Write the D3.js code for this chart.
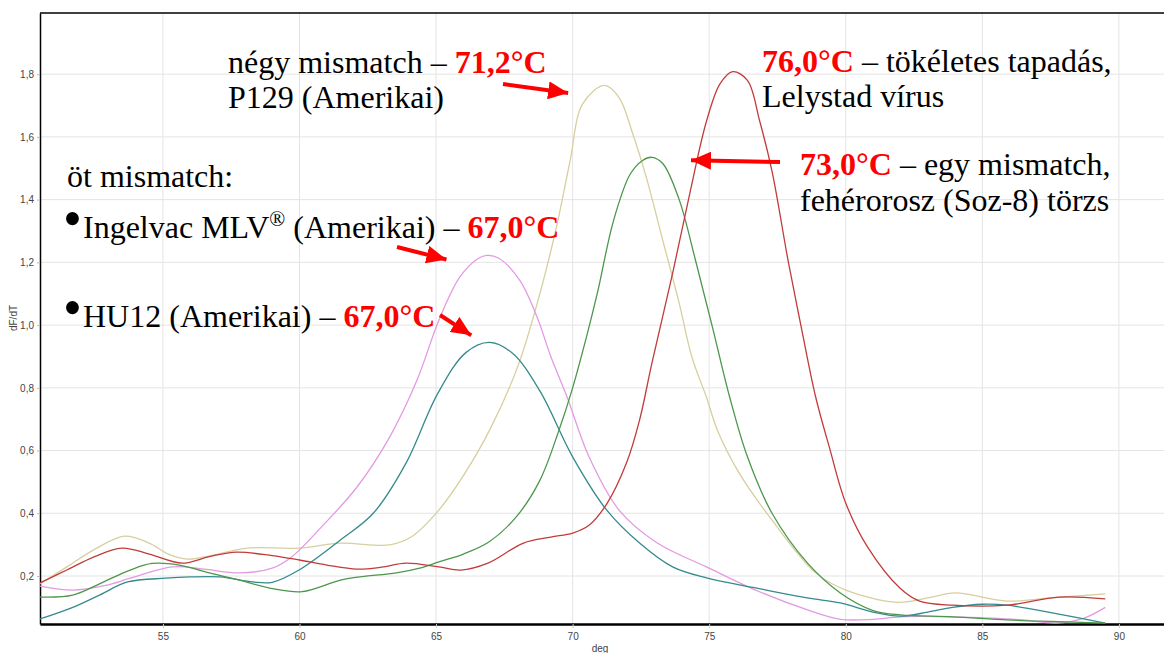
<!DOCTYPE html>
<html>
<head>
<meta charset="utf-8">
<script src="https://cdn.jsdelivr.net/npm/d3@7"></script>
<style>
  body { margin: 0; background: #fff; }
  .tick text { font-family: "Liberation Sans", Arial, sans-serif; font-size: 10px; fill: #444; }
  .note { font-family: "Liberation Serif", "Times New Roman", serif; font-size: 32px; fill: #000; }
  .temp { fill: #ff0000; font-weight: bold; }
</style>
</head>
<body>
<svg id="chart"></svg>
<script>
// melting curves, [temperature, dF/dT]
const lelystad = [[50.5,0.178],[51.5,0.22],[52.5,0.262],[53.5,0.289],[54.5,0.27],[55.7,0.241],[56.7,0.262],[57.7,0.276],[59,0.265],[60,0.251],[61,0.235],[62.1,0.222],[63,0.228],[63.9,0.241],[65.1,0.229],[65.9,0.219],[66.9,0.241],[68.2,0.305],[69.2,0.324],[70,0.337],[70.6,0.362],[71.25,0.43],[71.97,0.56],[72.45,0.697],[72.9,0.878],[73.66,1.165],[74.29,1.42],[74.9,1.65],[75.4,1.77],[75.86,1.808],[76.4,1.78],[76.85,1.65],[77.3,1.49],[77.9,1.2],[78.4,0.98],[78.9,0.77],[79.4,0.61],[80,0.432],[80.8,0.292],[82,0.16],[82.7,0.12],[83.9,0.107],[85.9,0.107],[87.8,0.133],[89.5,0.127]];
const p129 = [[50.5,0.175],[51.5,0.23],[52.5,0.285],[53.6,0.327],[54.5,0.305],[55.2,0.27],[55.9,0.254],[57,0.27],[58.1,0.289],[60,0.289],[61.5,0.305],[63.3,0.299],[64.1,0.325],[65.1,0.41],[66,0.52],[66.96,0.665],[68,0.87],[68.8,1.10],[69.4,1.31],[69.9,1.52],[70.37,1.706],[71.17,1.764],[71.7,1.725],[72.2,1.61],[72.7,1.47],[73.3,1.27],[73.9,1.07],[74.36,0.9],[74.9,0.77],[75.3,0.665],[76.1,0.528],[77.3,0.378],[78.9,0.21],[80,0.155],[81.9,0.116],[83,0.13],[84,0.146],[85.9,0.12],[87.5,0.13],[89.5,0.143]];
const soz8 = [[50.5,0.133],[51.7,0.139],[52.8,0.18],[53.8,0.219],[54.6,0.24],[55.6,0.235],[56.7,0.21],[57.8,0.187],[59,0.16],[60.1,0.15],[61.5,0.187],[62.2,0.197],[63.55,0.21],[64.4,0.225],[65.1,0.245],[66,0.27],[66.96,0.31],[67.95,0.39],[68.8,0.505],[69.5,0.665],[70,0.8],[70.5,0.96],[70.9,1.10],[71.5,1.334],[72.1,1.48],[72.56,1.525],[72.9,1.535],[73.3,1.515],[73.9,1.40],[74.5,1.206],[75.1,1.0],[75.75,0.77],[76.4,0.58],[77.3,0.40],[78.6,0.241],[79.8,0.146],[81,0.09],[82,0.076],[83.9,0.07],[85.9,0.06],[87.5,0.055],[89.5,0.05]];
const ingelvac = [[50.5,0.168],[51.7,0.155],[52.9,0.17],[53.8,0.193],[55.35,0.229],[56.5,0.222],[57.8,0.21],[59,0.225],[59.7,0.26],[60.8,0.356],[62.1,0.483],[63.3,0.643],[64.3,0.824],[65.1,1.015],[65.86,1.152],[66.5,1.21],[66.85,1.222],[67.3,1.213],[68.06,1.143],[68.7,1.025],[69.2,0.9],[69.8,0.77],[70.6,0.58],[71.7,0.41],[73.1,0.305],[74.9,0.229],[76.7,0.155],[78.6,0.092],[79.8,0.062],[81,0.062],[82,0.07],[83.9,0.07],[85.3,0.066],[86.5,0.06],[87.7,0.05],[88.7,0.065],[89.5,0.1]];
const hu12 = [[50.5,0.063],[51.7,0.10],[52.7,0.14],[53.7,0.181],[55.1,0.193],[56,0.197],[57.1,0.197],[58.3,0.181],[59,0.18],[60,0.22],[61.5,0.315],[62.7,0.4],[63.9,0.56],[65.05,0.78],[66.1,0.913],[66.96,0.945],[67.8,0.91],[68.8,0.79],[70,0.58],[71.25,0.41],[72.45,0.305],[73.66,0.229],[74.9,0.194],[76.7,0.162],[78.6,0.13],[79.8,0.114],[81,0.085],[82,0.072],[83,0.085],[83.9,0.10],[85,0.11],[85.9,0.107],[87.7,0.08],[89.5,0.05]];

const seriesNames = ['P129', 'Ingelvac', 'HU12', 'Soz-8', 'Lelystad'];
const seriesData = [p129, ingelvac, hu12, soz8, lelystad];
const seriesColors = ['#d6cf9e', '#e29be2', '#358a8c', '#4c974c', '#c23b3b'];

const xTicks = [55, 60, 65, 70, 75, 80, 85, 90];
const yTicks = [0.2, 0.4, 0.6, 0.8, 1.0, 1.2, 1.4, 1.6, 1.8];

const width = 1164, height = 653;
const margin = {top: 13, right: 0, bottom: 29, left: 40};
const innerW = width - margin.left - margin.right;
const innerH = height - margin.top - margin.bottom;

const svg = d3.select('#chart').attr('width', width).attr('height', height);
const chart = svg.append('g').attr('transform', `translate(${margin.left},${margin.top})`);

const x = d3.scaleLinear().domain([50.5, 91.65]).range([0, innerW]);
const y = d3.scaleLinear().domain([0.047, 1.995]).range([innerH, 0]);

// grid
chart.append('g').selectAll('line.h').data(yTicks).join('line')
  .attr('x1', 0).attr('x2', innerW)
  .attr('y1', d => y(d)).attr('y2', d => y(d))
  .attr('stroke', '#e4e4e4');
chart.append('g').selectAll('line.v').data(xTicks).join('line')
  .attr('y1', 0).attr('y2', innerH)
  .attr('x1', d => x(d)).attr('x2', d => x(d))
  .attr('stroke', '#e4e4e4');

// axes
const fmt = d => d3.format('.1f')(d).replace('.', ',');
chart.append('g').attr('transform', `translate(0,${innerH})`)
  .call(d3.axisBottom(x).tickValues(xTicks).tickSize(4).tickPadding(5).tickSizeOuter(0))
  .call(g => g.select('.domain').attr('stroke', '#000').attr('stroke-width', 2.5))
  .call(g => g.selectAll('.tick line').attr('stroke', '#ccc'));
chart.append('g')
  .call(d3.axisLeft(y).tickValues(yTicks).tickFormat(fmt).tickSize(3).tickPadding(3).tickSizeOuter(0))
  .call(g => g.select('.domain').attr('stroke', '#000').attr('stroke-width', 1.5))
  .call(g => g.selectAll('.tick line').attr('stroke', '#bbb'));
chart.append('line').attr('x1', 0).attr('x2', innerW).attr('y1', 0).attr('y2', 0)
  .attr('stroke', '#000').attr('stroke-width', 1.5);

svg.append('text').attr('transform', 'translate(17,318) rotate(-90)')
  .attr('text-anchor', 'middle')
  .style('font-family', '"Liberation Sans", Arial, sans-serif').style('font-size', '10px').style('fill', '#444')
  .text('dF/dT');
svg.append('text').attr('x', 600).attr('y', 652)
  .attr('text-anchor', 'middle')
  .style('font-family', '"Liberation Sans", Arial, sans-serif').style('font-size', '10px').style('fill', '#444')
  .text('deg');

// curves
const line = d3.line().x(d => x(d[0])).y(d => y(d[1])).curve(d3.curveCatmullRom.alpha(0.5));
chart.append('g').selectAll('path').data(seriesData).join('path')
  .attr('d', line)
  .attr('fill', 'none')
  .attr('stroke', (d, i) => seriesColors[i])
  .attr('stroke-width', 1.3);

// annotations
function note(xp, yp, parts, size) {
  const t = svg.append('text').attr('class', 'note').attr('x', xp).attr('y', yp);
  if (size) t.style('font-size', size + 'px');
  parts.forEach(p => {
    const s = t.append('tspan').text(p.text);
    if (p.red) s.attr('class', 'temp');
    if (p.sup) s.attr('font-size', '21px').attr('baseline-shift', '12px');
  });
}
note(228, 73, [{text: 'négy mismatch – '}, {text: '71,2°C', red: true}]);
note(228, 108, [{text: 'P129 (Amerikai)'}]);
note(762, 72, [{text: '76,0°C', red: true}, {text: ' – tökéletes tapadás,'}]);
note(762, 107, [{text: 'Lelystad vírus'}]);
note(800, 175, [{text: '73,0°C', red: true}, {text: ' – egy mismatch,'}]);
note(800, 211, [{text: 'fehérorosz (Soz-8) törzs'}]);
note(67, 187, [{text: 'öt mismatch:'}]);
note(63, 237, [{text: '•'}], 54);
note(83, 238, [{text: 'Ingelvac MLV'}, {text: '®', sup: true}, {text: ' (Amerikai) – '}, {text: '67,0°C', red: true}]);
note(63, 326, [{text: '•'}], 54);
note(83, 327, [{text: 'HU12 (Amerikai) – '}, {text: '67,0°C', red: true}]);

// arrows
svg.append('defs').append('marker')
  .attr('id', 'head').attr('markerUnits', 'userSpaceOnUse')
  .attr('viewBox', '0 0 20 18').attr('refX', 20).attr('refY', 9)
  .attr('markerWidth', 20).attr('markerHeight', 18).attr('orient', 'auto')
  .append('path').attr('d', 'M0,0 L20,9 L0,18 Z').attr('fill', '#ff0000');
const arrows = [[503, 84, 582, 95], [780, 162, 677, 160], [397, 247, 460, 263], [440, 315, 483, 343]];
svg.append('g').selectAll('line').data(arrows).join('line')
  .attr('x1', d => d[0]).attr('y1', d => d[1])
  .attr('x2', d => d[2] - (d[2] - d[0]) * 14 / Math.hypot(d[2] - d[0], d[3] - d[1]))
  .attr('y2', d => d[3] - (d[3] - d[1]) * 14 / Math.hypot(d[2] - d[0], d[3] - d[1]))
  .attr('stroke', '#ff0000').attr('stroke-width', 4)
  .attr('marker-end', 'url(#head)');
</script>
</body>
</html>
